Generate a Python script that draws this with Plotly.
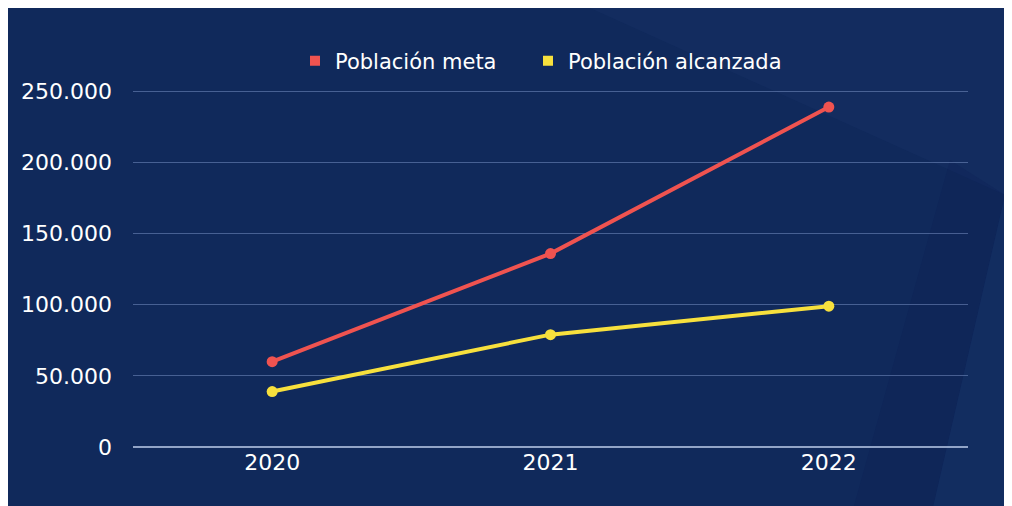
import plotly.graph_objects as go

years = ["2020", "2021", "2022"]
poblacion_meta = [60000, 136000, 239000]
poblacion_alcanzada = [39000, 79000, 99000]
series_names = ["Población meta", "Población alcanzada"]
y_ticks = [0, 50000, 100000, 150000, 200000, 250000]

RED = "#ef5350"
YELLOW = "#f7e03d"
NAVY = "#10295b"
FONT = "DejaVu Sans"

# figure is shown with an 8px page margin, so coordinates below are figure px
W, H = 1012, 506
OX, OY = 8, 8
ML, MR, MT, MB = 125, 52, 82, 67
PW, PH = W - ML - MR, H - MT - MB
YMAX = 251000


def px(x):  # page x -> paper
    return (x - OX - ML) / PW


def py(y):  # page y -> paper
    return (H - MB - (y - OY)) / PH


def path(points):
    return "M " + " L ".join(f"{px(x):.4f},{py(y):.4f}" for x, y in points) + " Z"


fig = go.Figure()

legend_ids = ["legend", "legend2"]
for name, vals, col, lg in [(series_names[0], poblacion_meta, RED, legend_ids[0]),
                            (series_names[1], poblacion_alcanzada, YELLOW, legend_ids[1])]:
    fig.add_trace(go.Scatter(
        x=years, y=vals, mode="lines+markers", name=name,
        line=dict(color=col, width=4),
        marker=dict(color=col, size=11),
        showlegend=False, hoverinfo="x+y",
    ))
    fig.add_trace(go.Scatter(
        x=[None], y=[None], mode="markers", name=name,
        marker=dict(color=col, size=10, symbol="square"),
        showlegend=True, legend=lg,
    ))

shapes = [
    dict(type="path", xref="paper", yref="paper",
         path=path([(590, 8), (1030, 8), (1030, 205), (1005, 195)]),
         fillcolor="rgba(60,95,170,0.06)", line_width=0, layer="below"),
    dict(type="path", xref="paper", yref="paper",
         path=path([(950, 160), (1005, 195), (930, 520), (850, 520)]),
         fillcolor="rgba(5,20,70,0.12)", line_width=0, layer="below"),
    dict(type="path", xref="paper", yref="paper",
         path=path([(1005, 195), (1030, 205), (1030, 520), (930, 520)]),
         fillcolor="rgba(60,95,170,0.07)", line_width=0, layer="below"),
]

legend_style = dict(
    orientation="h", yanchor="middle", xanchor="left",
    font=dict(family=FONT, size=21, color="white"),
    bgcolor="rgba(0,0,0,0)", itemclick=False, borderwidth=0,
)

fig.update_layout(
    width=W, height=H,
    margin=dict(l=ML, r=MR, t=MT, b=MB),
    paper_bgcolor=NAVY,
    plot_bgcolor="rgba(0,0,0,0)",
    separators=",.",
    font=dict(family=FONT, color="white", size=20),
    shapes=shapes,
    legend=dict(x=px(295), y=py(61), **legend_style),
    legend2=dict(x=px(528), y=py(61), **legend_style),
    xaxis=dict(
        type="category", range=[-0.5, 2.5], showgrid=False, zeroline=False,
        showline=False, ticks="", tickfont=dict(size=22, color="white"),
        fixedrange=True,
    ),
    yaxis=dict(
        range=[0, YMAX], tickvals=y_ticks, tickformat=",d",
        showgrid=True, gridcolor="rgba(140,165,215,0.45)", gridwidth=1,
        zeroline=True, zerolinecolor="rgba(190,205,235,0.75)", zerolinewidth=1.5,
        showline=False, ticks="", ticklabelstandoff=20,
        tickfont=dict(size=22, color="white"), fixedrange=True,
    ),
    showlegend=True,
)

fig.write_html("out.html")
